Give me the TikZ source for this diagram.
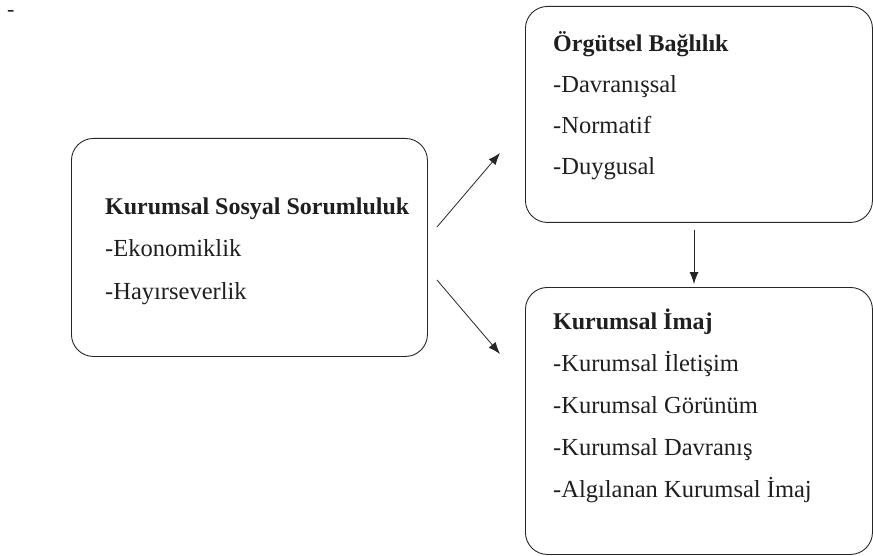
\documentclass[tikz,border=0pt]{standalone}
\usepackage{fontspec}
\setmainfont{Liberation Serif}
\usetikzlibrary{arrows.meta}
\tikzset{
  box/.style={draw=black!85, line width=0.9pt, rounded corners=22pt, anchor=north west, inner sep=0pt},
  txt/.style={anchor=base west, inner sep=0pt, font=\fontsize{24.5}{28}\selectfont, text=black!88},
  head/.style={txt, font=\fontsize{24}{28}\selectfont\bfseries},
  conn/.style={draw=black!85, line width=0.8pt, -{Latex[length=12pt,width=9pt]}}
}
\begin{document}
\begin{tikzpicture}[x=1pt,y=-1pt]
\useasboundingbox (0,0) rectangle (873,556);
\node[txt, font=\fontsize{22}{26}\selectfont] (dash) at (7,17) {-};
% boxes
\node[box, minimum width=356pt, minimum height=218pt] (ksr) at (71,138) {};
\node[box, minimum width=347pt, minimum height=216pt] (ob) at (525,6) {};
\node[box, minimum width=347pt, minimum height=267pt] (ki) at (525,287) {};
% left box text
\node[head] (ksr1) at (105,215) {Kurumsal Sosyal Sorumluluk};
\node[txt] (ksr2) at (105,257) {-Ekonomiklik};
\node[txt] (ksr3) at (105,299) {-Hayırseverlik};
% top right text
\node[head] (ob1) at (553,52) {Örgütsel Bağlılık};
\node[txt] (ob2) at (553,93) {-Davranışsal};
\node[txt] (ob3) at (553,134) {-Normatif};
\node[txt] (ob4) at (553,175) {-Duygusal};
% bottom right text
\node[head] (ki1) at (553,329) {Kurumsal İmaj};
\node[txt] (ki2) at (553,371) {-Kurumsal İletişim};
\node[txt] (ki3) at (553,413) {-Kurumsal Görünüm};
\node[txt] (ki4) at (553,455) {-Kurumsal Davranış};
\node[txt] (ki5) at (553,497) {-Algılanan Kurumsal İmaj};
% arrows
\coordinate (u1) at (437,227);
\coordinate (u2) at (500,153);
\coordinate (l1) at (437,280);
\coordinate (l2) at (500,354);
\coordinate (v1) at (694,230);
\coordinate (v2) at (694,284);
\draw[conn] (u1) -- (u2);
\draw[conn] (l1) -- (l2);
\draw[conn] (v1) -- (v2);
\end{tikzpicture}
\end{document}
